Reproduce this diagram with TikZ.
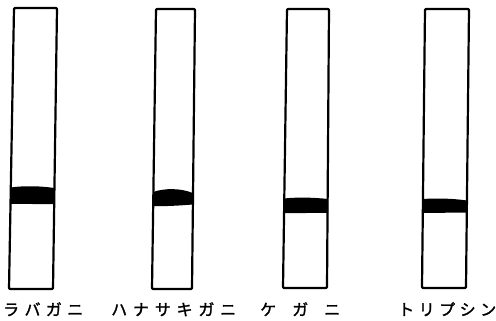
\documentclass[tikz,border=0pt]{standalone}
\usepackage{fontspec}
\newfontfamily\jp[FakeBold=1.5]{Noto Sans CJK JP}
\begin{document}
\begin{tikzpicture}[x=1pt,y=-1pt,
  tube/.style={draw=black,line width=2.2pt,rounded corners=1pt,line join=round},
  band/.style={fill=black},
  lab/.style={font=\jp\fontsize{16}{16}\selectfont, inner sep=0pt, anchor=base west}]
\useasboundingbox (0,0) rectangle (496,321);
% bands
\fill[band] (10.5,187.5) .. controls (25,185.5) and (40,186) .. (54.5,188) -- (54,204) .. controls (40,204.5) and (25,203.5) .. (10.5,204) -- cycle;
\fill[band] (153,192) .. controls (165,188) and (180,188) .. (193,193) -- (193,204.5) .. controls (180,205.5) and (165,206.5) .. (153,206) -- cycle;
\fill[band] (284,198.5) .. controls (298,197) and (314,197.5) .. (328,199) -- (328,213) .. controls (314,212.5) and (298,213.5) .. (284,213) -- cycle;
\fill[band] (423,199) .. controls (437,198) and (453,198.5) .. (467,200.5) -- (467,212.5) .. controls (453,212.5) and (437,213) .. (423,213) -- cycle;
% tubes
\draw[tube] (9,289) -- (14,8) -- (57,8) -- (53,289) -- cycle;
\draw[tube] (152,289) -- (156,9) -- (195,9) -- (192,289) -- cycle;
\draw[tube] (283,288) -- (287,9) -- (329,9) -- (327,288) -- cycle;
\draw[tube] (422,288) -- (425,9) -- (469,9) -- (466,288) -- cycle;
% labels
\node[lab] (l1) at (3,315.5) {\makebox[80pt][s]{ラ\hfill バ\hfill ガ\hfill ニ}};
\node[lab] (l2) at (111,315.5) {\makebox[125pt][s]{ハ\hfill ナ\hfill サ\hfill キ\hfill ガ\hfill ニ}};
\node[lab] (l3) at (260,315.5) {\makebox[80pt][s]{ケ\hfill ガ\hfill ニ}};
\node[lab] (l4) at (398,315.5) {\makebox[98pt][s]{ト\hfill リ\hfill プ\hfill シ\hfill ン}};
\end{tikzpicture}
\end{document}
